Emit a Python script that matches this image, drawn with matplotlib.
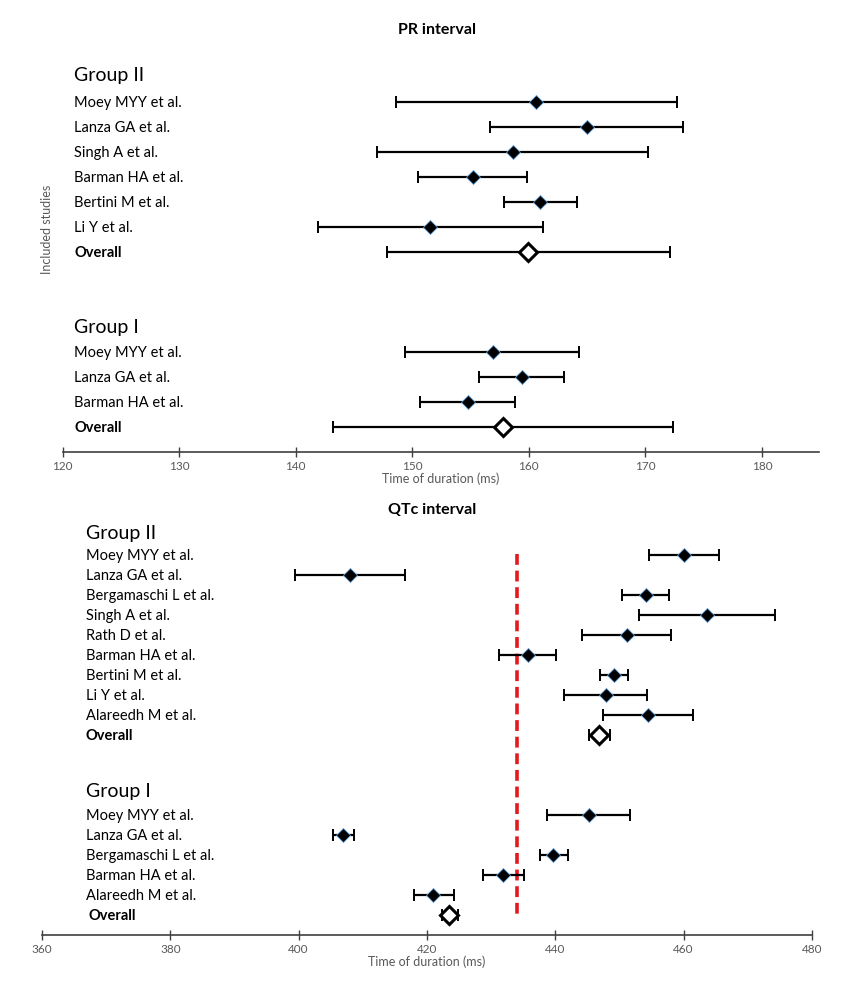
import matplotlib.pyplot as plt
import numpy as np

plt.rcParams['font.family'] = ['Lato', 'DejaVu Sans']

# PR interval (ms): mean, lower, upper
pr_g2_studies = ['Moey MYY et al.', 'Lanza GA et al.', 'Singh A et al.', 'Barman HA et al.',
                 'Bertini M et al.', 'Li Y et al.']
pr_g2_mean = [160.65, 165.0, 158.65, 155.2, 161.0, 151.55]
pr_g2_low = [148.6, 156.7, 147.0, 150.5, 157.9, 141.9]
pr_g2_high = [172.7, 173.2, 170.2, 159.8, 164.1, 161.2]
pr_g2_overall = [159.9, 147.8, 172.1]

pr_g1_studies = ['Moey MYY et al.', 'Lanza GA et al.', 'Barman HA et al.']
pr_g1_mean = [156.9, 159.4, 154.8]
pr_g1_low = [149.4, 155.7, 150.7]
pr_g1_high = [164.3, 163.0, 158.8]
pr_g1_overall = [157.8, 143.2, 172.4]

# QTc interval (ms)
qt_g2_studies = ['Moey MYY et al.', 'Lanza GA et al.', 'Bergamaschi L et al.', 'Singh A et al.',
                 'Rath D et al.', 'Barman HA et al.', 'Bertini M et al.', 'Li Y et al.',
                 'Alareedh M et al.']
qt_g2_mean = [460.1, 408.0, 454.1, 463.7, 451.1, 435.7, 449.1, 447.9, 454.4]
qt_g2_low = [454.6, 399.4, 450.4, 453.1, 444.2, 431.2, 446.9, 441.4, 447.4]
qt_g2_high = [465.5, 416.6, 457.7, 474.3, 458.0, 440.1, 451.3, 454.3, 461.4]
qt_g2_overall = [446.75, 445.2, 448.5]

qt_g1_studies = ['Moey MYY et al.', 'Lanza GA et al.', 'Bergamaschi L et al.', 'Barman HA et al.',
                 'Alareedh M et al.']
qt_g1_mean = [445.2, 406.9, 439.7, 431.9, 421.0]
qt_g1_low = [438.75, 405.3, 437.6, 428.7, 417.9]
qt_g1_high = [451.6, 408.6, 442.0, 435.1, 424.2]
qt_g1_overall = [423.5, 422.3, 424.8]

qt_reference = 434.0


def draw_group(ax, rows, mean, low, high, overall, overall_row):
    mean = np.array(mean)
    xerr = [mean - np.array(low), np.array(high) - mean]
    ax.errorbar(mean, rows, xerr=xerr, fmt='none', ecolor='black', elinewidth=1.6,
                capsize=4, capthick=1.4, zorder=2)
    ax.plot(mean, rows, 'D', color='black', markersize=7, markeredgecolor='#5b9bd5',
            markeredgewidth=0.6, zorder=3)
    ov = overall[0]
    ax.errorbar([ov], [overall_row], xerr=[[ov - overall[1]], [overall[2] - ov]], fmt='none',
                ecolor='black', elinewidth=1.6, capsize=4, capthick=1.4, zorder=2)
    ax.plot([ov], [overall_row], 'D', color='white', markersize=9, markeredgecolor='black',
            markeredgewidth=2.2, zorder=3)


def label_group(ax, x, header, header_row, studies, rows, overall_row, overall_x=None):
    ax.text(x, header_row, header, fontsize=14, va='center', ha='left')
    for name, r in zip(studies, rows):
        ax.text(x, r, name, fontsize=10.5, va='center', ha='left')
    ax.text(overall_x if overall_x is not None else x, overall_row, 'Overall', fontsize=10.5,
            fontweight='bold', va='center', ha='left')


def style_axis(ax):
    for side in ['left', 'right', 'top']:
        ax.spines[side].set_visible(False)
    ax.spines['bottom'].set_color('#404040')
    ax.spines['bottom'].set_linewidth(1.2)
    ax.set_yticks([])
    ax.tick_params(axis='x', direction='inout', length=7, width=1.0, color='#404040',
                   labelsize=8.5, labelcolor='#595959', pad=3)
    ax.set_xlabel('Time of duration (ms)', fontsize=9, color='#595959', labelpad=0)


fig = plt.figure(figsize=(8.59, 10), dpi=100)

# PR interval panel
ax1 = fig.add_axes([62.7 / 859, 1 - 452 / 1000, (819 - 62.7) / 859, 425 / 1000])
g2_rows = np.arange(len(pr_g2_studies))
g1_rows = np.arange(len(pr_g1_studies)) + 10
draw_group(ax1, g2_rows, pr_g2_mean, pr_g2_low, pr_g2_high, pr_g2_overall, 6)
draw_group(ax1, g1_rows, pr_g1_mean, pr_g1_low, pr_g1_high, pr_g1_overall, 13)
label_group(ax1, 121.0, 'Group II', -1.08, pr_g2_studies, g2_rows + 0.04, 6.04)
label_group(ax1, 121.0, 'Group I', 9.0, pr_g1_studies, g1_rows + 0.04, 13.04)
ax1.set_xlim(120, 184.9)
ax1.set_ylim(14, -3)
ax1.set_xticks(np.arange(120, 181, 10))
style_axis(ax1)
ax1.set_ylabel('Included studies', fontsize=9, color='#595959')
ax1.yaxis.set_label_coords(-0.013, 0.525)
fig.text(437 / 859, 1 - 30 / 1000, 'PR interval', fontsize=11.5, fontweight='bold',
         ha='center', va='center')

# QTc interval panel
ax2 = fig.add_axes([42 / 859, 1 - 935 / 1000, (812 - 42) / 859, 440 / 1000])
q2_rows = np.arange(len(qt_g2_studies))
q1_rows = np.arange(len(qt_g1_studies)) + 13
draw_group(ax2, q2_rows, qt_g2_mean, qt_g2_low, qt_g2_high, qt_g2_overall, 9)
draw_group(ax2, q1_rows, qt_g1_mean, qt_g1_low, qt_g1_high, qt_g1_overall, 18)
ax2.plot([qt_reference, qt_reference], [-0.05, 17.95], linestyle=(0, (3, 1.6)), color='#e31a1c',
         linewidth=2.6, zorder=1)
label_group(ax2, 366.8, 'Group II', -1.1, qt_g2_studies, q2_rows + 0.05, 9.05)
label_group(ax2, 366.8, 'Group I', 11.85, qt_g1_studies, q1_rows + 0.05, 18.05, overall_x=367.2)
ax2.set_xlim(360, 480)
ax2.set_ylim(19, -3)
ax2.set_xticks(np.arange(360, 481, 20))
style_axis(ax2)
fig.text(432 / 859, 1 - 510 / 1000, 'QTc interval', fontsize=11.5, fontweight='bold',
         ha='center', va='center')

plt.savefig('out.png', dpi=100)
